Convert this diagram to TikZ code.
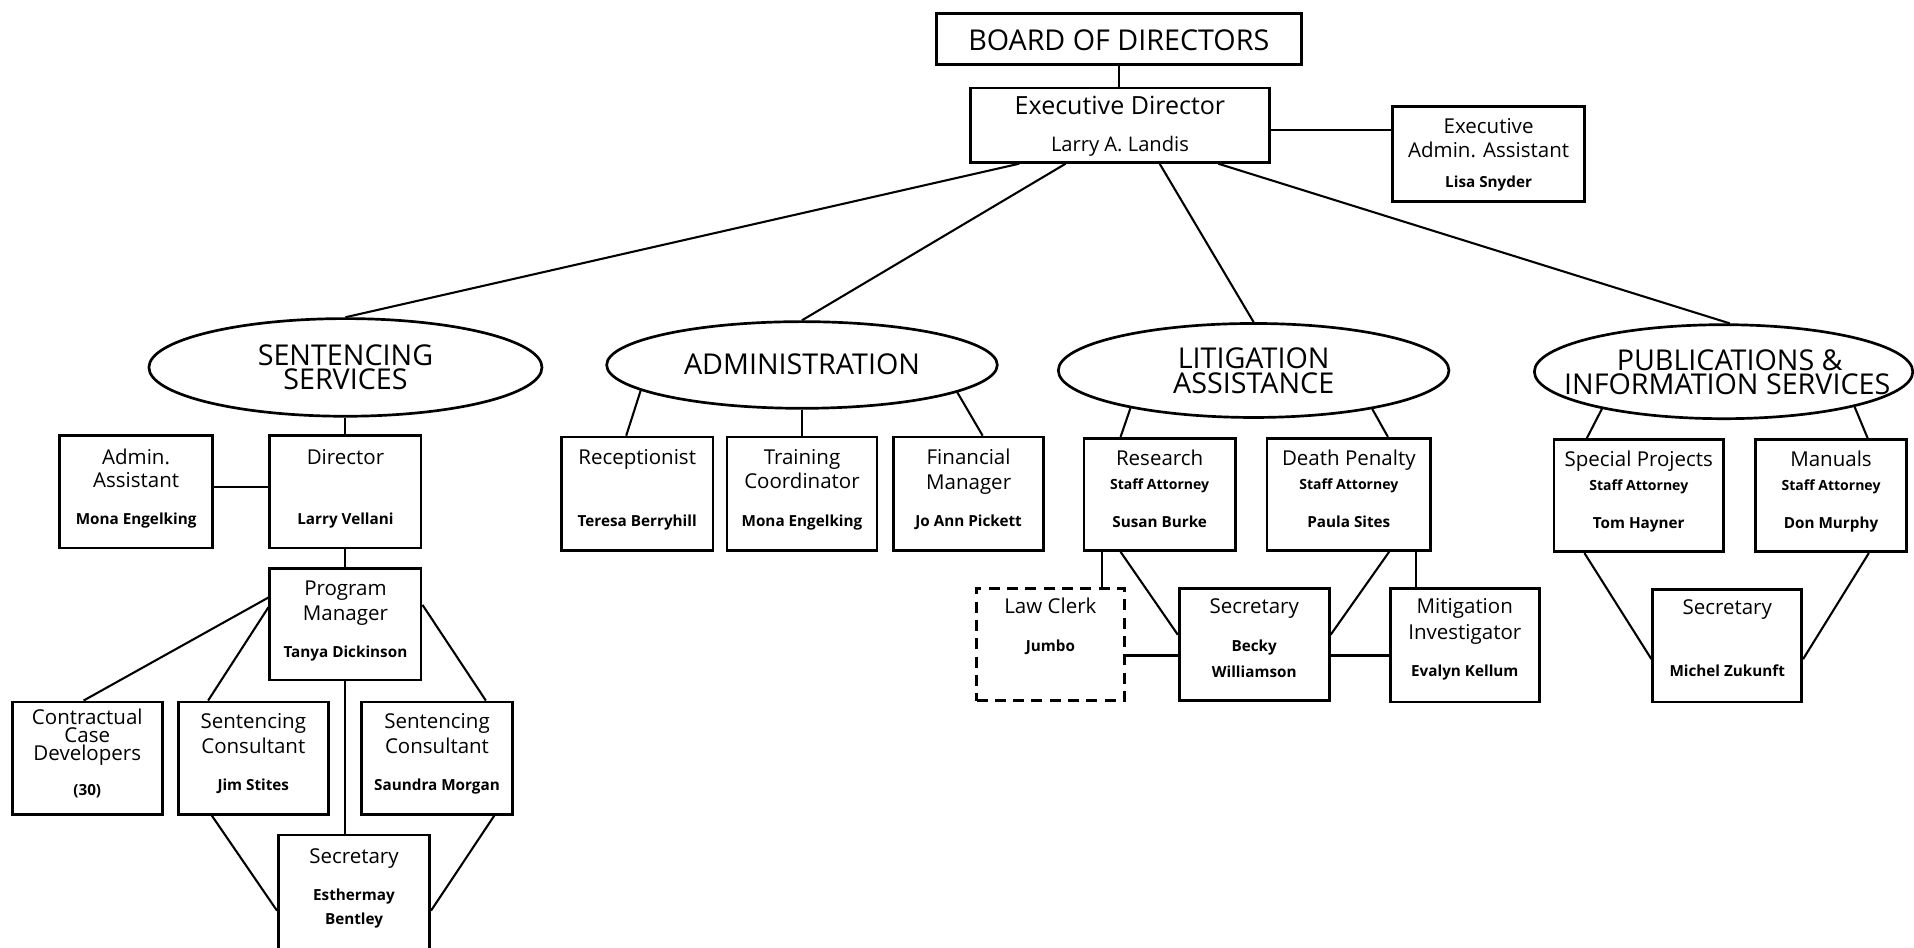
\documentclass[tikz,border=0pt]{standalone}
\usepackage{fontspec}
\setmainfont{Open Sans}
\usetikzlibrary{shapes.geometric,calc}
\begin{document}
\begin{tikzpicture}[x=1pt,y=-1pt,
  box/.style={draw, line width=2.2pt, inner sep=0pt},
  dbox/.style={box, dash pattern=on 9pt off 6pt},
  oval/.style={draw, ellipse, line width=2.2pt, inner sep=0pt},
  conn/.style={line width=1.7pt},
  bigt/.style={anchor=base, yshift=-8.2pt, inner sep=0pt, font=\fontsize{23.5}{24}\selectfont},
  ttl/.style={anchor=base, yshift=-5.2pt, inner sep=0pt, font=\fontsize{16.8}{19}\selectfont},
  nm/.style={anchor=base, yshift=-4pt, inner sep=0pt, font=\fontsize{12.5}{15}\selectfont\bfseries},
  sa/.style={anchor=base, yshift=-3.8pt, inner sep=0pt, font=\fontsize{11.5}{14}\selectfont\bfseries},
]
\useasboundingbox (0,0) rectangle (1568,776);
\fill[white] (0,0) rectangle (1568,776);

% top
\node[box, minimum width=299, minimum height=42] (board) at (916.5,32) {};
\node[bigt] (boardT) at (916.5,33) {BOARD OF DIRECTORS};
\node[box, minimum width=245, minimum height=61] (exec) at (917.5,102.5) {};
\node[ttl, yshift=-1pt, font=\fontsize{20.5}{22}\selectfont] (execT) at (917.5,88) {Executive Director};
\node[ttl, font=\fontsize{16.5}{18}\selectfont] (execN) at (917.5,119) {Larry A. Landis};
\node[box, minimum width=157, minimum height=78] (ea) at (1219.5,126) {};
\node[ttl] (eaT1) at (1219.5,104) {Executive};
\node[ttl] (eaT2) at (1219.5,124) {Admin. Assistant};
\node[nm] (eaN) at (1219.5,150) {Lisa Snyder};

% ellipses
\node[oval, minimum width=322, minimum height=80] (ss) at (283,301) {};
\node[bigt] (ssT1) at (283,291) {SENTENCING};
\node[bigt] (ssT2) at (283,311) {SERVICES};
\node[oval, minimum width=320, minimum height=71] (adm) at (657,299) {};
\node[bigt] (admT) at (657,299) {ADMINISTRATION};
\node[oval, minimum width=320, minimum height=77] (lit) at (1027,303.5) {};
\node[bigt] (litT1) at (1027,294) {LITIGATION};
\node[bigt] (litT2) at (1027,314) {ASSISTANCE};
\node[oval, minimum width=310, minimum height=77] (pub) at (1412,304.5) {};
\node[bigt] (pubT1) at (1417,295) {PUBLICATIONS \&};
\node[bigt] (pubT2) at (1415,315) {INFORMATION SERVICES};

% sentencing boxes
\node[box, minimum width=125, minimum height=92] (aa) at (111.5,403) {};
\node[ttl] (aaT1) at (111.5,375) {Admin.};
\node[ttl] (aaT2) at (111.5,394) {Assistant};
\node[nm] (aaN) at (111.5,426) {Mona Engelking};
\node[box, minimum width=124, minimum height=92] (dir) at (283,403) {};
\node[ttl] (dirT) at (283,375) {Director};
\node[nm] (dirN) at (283,426) {Larry Vellani};
\node[box, minimum width=124, minimum height=91] (pm) at (283,511.5) {};
\node[ttl] (pmT1) at (283,483) {Program};
\node[ttl] (pmT2) at (283,503) {Manager};
\node[nm] (pmN) at (283,535) {Tanya Dickinson};
\node[box, minimum width=123, minimum height=92] (ccd) at (71.5,621) {};
\node[ttl] (ccdT1) at (71.5,588) {Contractual};
\node[ttl] (ccdT2) at (71.5,603) {Case};
\node[ttl] (ccdT3) at (71.5,618) {Developers};
\node[nm] (ccdN) at (71.5,648) {(30)};
\node[box, minimum width=123, minimum height=92] (sc1) at (207.5,621) {};
\node[ttl] (sc1T1) at (207.5,592) {Sentencing};
\node[ttl] (sc1T2) at (207.5,612) {Consultant};
\node[nm] (sc1N) at (207.5,644) {Jim Stites};
\node[box, minimum width=124, minimum height=92] (sc2) at (358,621) {};
\node[ttl] (sc2T1) at (358,592) {Sentencing};
\node[ttl] (sc2T2) at (358,612) {Consultant};
\node[nm] (sc2N) at (358,644) {Saundra Morgan};
\node[box, minimum width=124, minimum height=100] (sec1) at (290,734) {};
\node[ttl] (sec1T) at (290,702) {Secretary};
\node[nm] (sec1N1) at (290,734) {Esthermay};
\node[nm] (sec1N2) at (290,753) {Bentley};

% administration boxes
\node[box, minimum width=124, minimum height=93] (rec) at (522,404.5) {};
\node[ttl] (recT) at (522,375) {Receptionist};
\node[nm] (recN) at (522,427) {Teresa Berryhill};
\node[box, minimum width=123, minimum height=93] (trn) at (657,404.5) {};
\node[ttl] (trnT1) at (657,375) {Training};
\node[ttl] (trnT2) at (657,395) {Coordinator};
\node[nm] (trnN) at (657,427) {Mona Engelking};
\node[box, minimum width=123, minimum height=93] (fin) at (793.5,404.5) {};
\node[ttl] (finT1) at (793.5,375) {Financial};
\node[ttl] (finT2) at (793.5,396) {Manager};
\node[nm] (finN) at (793.5,427) {Jo Ann Pickett};

% litigation boxes
\node[box, minimum width=124, minimum height=92] (res) at (950,405) {};
\node[ttl] (resT) at (950,376) {Research};
\node[sa] (resS) at (950,397) {Staff Attorney};
\node[nm] (resN) at (950,428) {Susan Burke};
\node[box, minimum width=134, minimum height=92] (dp) at (1105,405) {};
\node[ttl] (dpT) at (1105,376) {Death Penalty};
\node[sa] (dpS) at (1105,397) {Staff Attorney};
\node[nm] (dpN) at (1105,428) {Paula Sites};
\node[dbox, minimum width=121, minimum height=92] (lc) at (860.5,528) {};
\node[ttl] (lcT) at (860.5,497) {Law Clerk};
\node[nm] (lcN) at (860.5,530) {Jumbo};
\node[box, minimum width=123, minimum height=92] (sec2) at (1027.5,528) {};
\node[ttl] (sec2T) at (1027.5,497) {Secretary};
\node[nm] (sec2N1) at (1027.5,530) {Becky};
\node[nm] (sec2N2) at (1027.5,551) {Williamson};
\node[box, minimum width=122, minimum height=93] (mit) at (1200,528.5) {};
\node[ttl] (mitT1) at (1200,497) {Mitigation};
\node[ttl] (mitT2) at (1200,519) {Investigator};
\node[nm] (mitN) at (1200,550) {Evalyn Kellum};

% publications boxes
\node[box, minimum width=139, minimum height=92] (sp) at (1342.5,406) {};
\node[ttl] (spT) at (1342.5,377) {Special Projects};
\node[sa] (spS) at (1342.5,398) {Staff Attorney};
\node[nm] (spN) at (1342.5,429) {Tom Hayner};
\node[box, minimum width=124, minimum height=92] (man) at (1500,406) {};
\node[ttl] (manT) at (1500,377) {Manuals};
\node[sa] (manS) at (1500,398) {Staff Attorney};
\node[nm] (manN) at (1500,429) {Don Murphy};
\node[box, minimum width=122, minimum height=92] (sec3) at (1415,529) {};
\node[ttl] (sec3T) at (1415,498) {Secretary};
\node[nm] (sec3N) at (1415,550) {Michel Zukunft};

% connectors
\draw[conn] (board.south) -- (board.south |- exec.north);
\coordinate (eaj) at ($(exec.east)+(0,4)$);
\draw[conn] (eaj) -- (ea.west |- eaj);
\draw[conn] ($(exec.south)+(-82.5,0)$) -- (ss.north);
\draw[conn] ($(exec.south)+(-44.5,0)$) -- (adm.north);
\draw[conn] ($(exec.south)+(32.5,0)$) -- (lit.north);
\draw[conn] ($(exec.south)+(80.5,0)$) -- ($(pub.north)+(5,0)$);

\draw[conn] (ss.south) -- (dir.north);
\draw[conn] ($(aa.east)+(0,-4)$) -- ($(dir.west)+(0,-4)$);
\draw[conn] (dir.south) -- (pm.north);
\draw[conn] ($(pm.west)+(0,-22)$) -- ($(ccd.north)+(-3,0)$);
\draw[conn] ($(pm.west)+(0,-14)$) -- ($(sc1.north)+(-37,0)$);
\draw[conn] ($(pm.east)+(0,-16)$) -- ($(sc2.north)+(40,0)$);
\draw[conn] (pm.south) -- (pm.south |- sec1.north);
\draw[conn] ($(sc1.south)+(-34,0)$) -- ($(sec1.west)+(0,12)$);
\draw[conn] ($(sc2.south)+(47,0)$) -- ($(sec1.east)+(0,12)$);

\draw[conn] (adm.189.8) -- ($(rec.north)+(-9,0)$);
\draw[conn] (adm.south) -- (trn.north);
\draw[conn] (adm.350.8) -- ($(fin.north)+(11.5,0)$);

\draw[conn] (lit.197.9) -- ($(res.north)+(-32,0)$);
\draw[conn] (lit.342.1) -- ($(dp.north)+(32,0)$);
\coordinate (rlc) at ($(res.south)+(-47,0)$);
\draw[conn] (rlc) -- (rlc |- lc.north);
\draw[conn] ($(res.south)+(-32,0)$) -- ($(sec2.west)+(0,-8)$);
\draw[conn] ($(dp.south)+(33,0)$) -- ($(sec2.east)+(0,-8)$);
\coordinate (dmi) at ($(dp.south)+(55,0)$);
\draw[conn] (dmi) -- (dmi |- mit.north);
\draw[conn] ($(lc.east)+(0,9)$) -- ($(sec2.west)+(0,9)$);
\draw[conn] ($(sec2.east)+(0,9)$) -- ($(mit.west)+(0,8.5)$);

\draw[conn] (pub.197) -- ($(sp.north)+(-42.5,0)$);
\draw[conn] (pub.345.6) -- ($(man.north)+(30,0)$);
\draw[conn] ($(sp.south)+(-44.5,0)$) -- ($(sec3.west)+(0,11)$);
\draw[conn] ($(man.south)+(31,0)$) -- ($(sec3.east)+(0,11)$);
\end{tikzpicture}
\end{document}
